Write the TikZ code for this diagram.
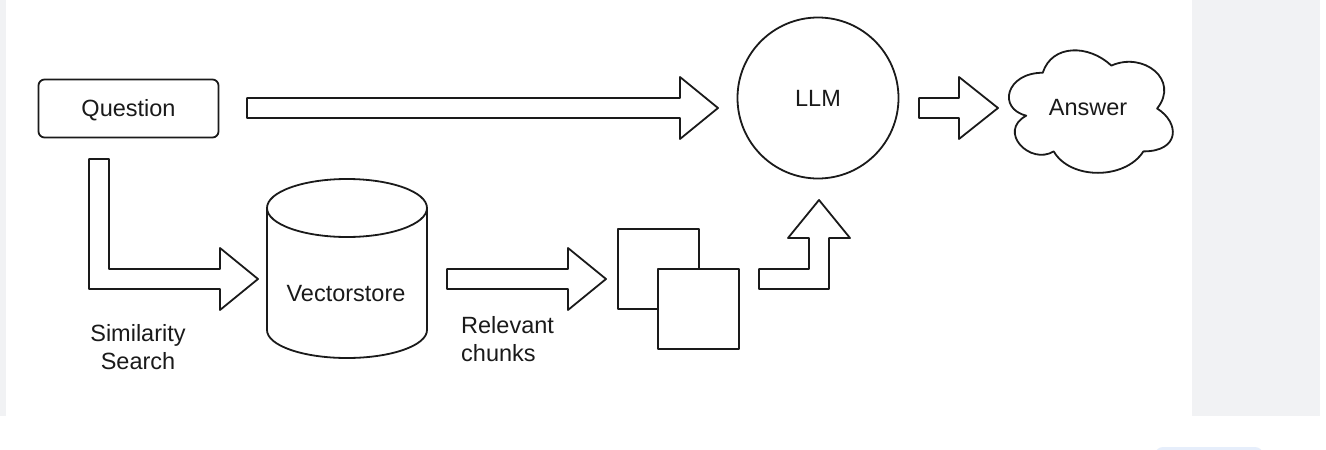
\documentclass[tikz,border=0pt]{standalone}
\usepackage{fontspec}
\setmainfont{Liberation Sans}
\definecolor{panelgray}{HTML}{F1F2F4}
\definecolor{ink}{HTML}{1A1A1A}
\definecolor{faintblue}{HTML}{E6EEFB}
\begin{document}
\begin{tikzpicture}[x=1pt,y=-1pt,line join=round,
  shp/.style={draw=ink,line width=1.8pt,fill=white},
  lbl/.style={font=\fontsize{23.5}{28}\selectfont,text=ink,inner sep=0pt}]
\useasboundingbox (0,0) rectangle (1326,450);
\fill[white] (0,0) rectangle (1326,450);
\fill[panelgray] (0,0) rectangle (6,415.5);
\fill[panelgray] (1192,0) rectangle (1320,415.5);
\begin{scope}
  \clip (0,0) rectangle (1326,450);
  \fill[faintblue,rounded corners=8pt] (1155,447) rectangle (1263,475);
\end{scope}

% Question box
\node[shp,rounded corners=6pt,minimum width=180pt,minimum height=58pt,inner sep=0pt] (qbox) at (128.5,108.5) {};
\node[lbl,anchor=base] (q) at (128.5,116) {Question};

% LLM circle
\node[shp,circle,minimum size=161pt,inner sep=0pt] (llmc) at (818,98) {};
\node[lbl,anchor=base] (llm) at (818,106) {LLM};

% Answer cloud (draw.io cloud path)
\begin{scope}[shift={(997,37)},x=183pt,y=-143pt]
  \draw[shp] (0.25,0.25) .. controls (0.05,0.25) and (0,0.5) .. (0.16,0.55)
    .. controls (0,0.66) and (0.18,0.9) .. (0.31,0.8)
    .. controls (0.4,1) and (0.7,1) .. (0.8,0.8)
    .. controls (1,0.8) and (1,0.6) .. (0.875,0.5)
    .. controls (1,0.3) and (0.8,0.1) .. (0.625,0.2)
    .. controls (0.5,0.05) and (0.3,0.05) .. (0.25,0.25) -- cycle;
\end{scope}
\node[lbl,anchor=base] (ans) at (1088,115) {Answer};

% Vectorstore cylinder
\draw[shp] (267,208) -- (267,330)
  .. controls (267,345.5) and (302.8,358) .. (347,358)
  .. controls (391.2,358) and (427,345.5) .. (427,330)
  -- (427,208) -- cycle;
\draw[shp] (347,208) ellipse [x radius=80, y radius=29];
\node[lbl,anchor=base] (vs) at (346,301.5) {Vectorstore};

% Chunks
\node[shp,rectangle,minimum width=81pt,minimum height=80pt,inner sep=0pt] (c1) at (658.5,269) {};
\node[shp,rectangle,minimum width=81pt,minimum height=80pt,inner sep=0pt] (c2) at (698.5,309) {};

% Block arrows
\draw[shp] (247,98) -- (680,98) -- (680,77) -- (718,108) -- (680,139) -- (680,118) -- (247,118) -- cycle;
\draw[shp] (919,98) -- (959,98) -- (959,77) -- (998,108) -- (959,139) -- (959,118) -- (919,118) -- cycle;
\draw[shp] (89,159) -- (109,159) -- (109,269) -- (220,269) -- (220,248) -- (258,279) -- (220,310) -- (220,289) -- (89,289) -- cycle;
\draw[shp] (447,269) -- (568,269) -- (568,248) -- (606,279) -- (568,310) -- (568,289) -- (447,289) -- cycle;
\draw[shp] (759,269) -- (809,269) -- (809,238) -- (788,238) -- (819,200) -- (850,238) -- (829,238) -- (829,289) -- (759,289) -- cycle;

% Edge labels (base anchor = baseline of the last line)
\node[lbl,anchor=base,align=center] (sim) at (138,369.5) {Similarity\\Search};
\node[lbl,anchor=base west,align=left] (rel) at (461,361) {Relevant\\chunks};
\end{tikzpicture}
\end{document}
